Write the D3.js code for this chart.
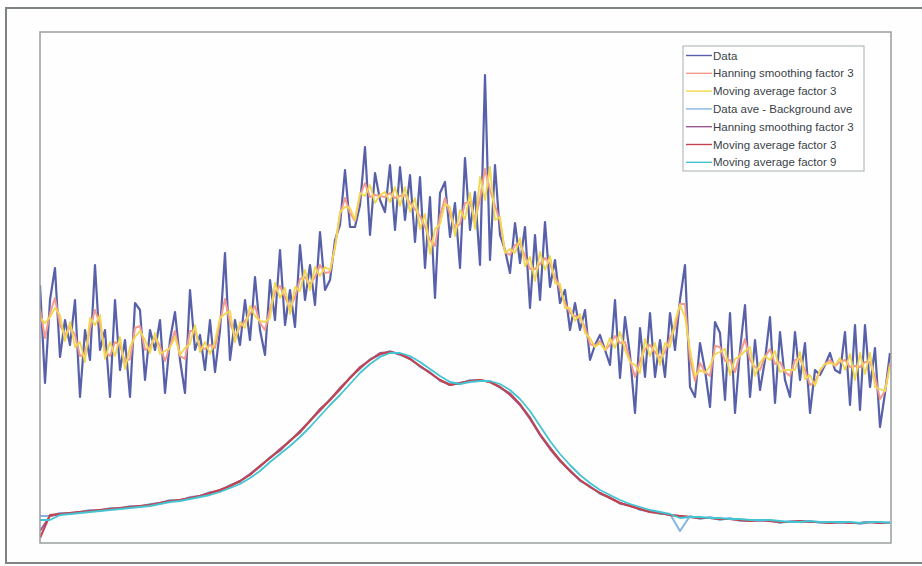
<!DOCTYPE html>
<html>
<head>
<meta charset="utf-8">
<script src="https://cdn.jsdelivr.net/npm/d3@7"></script>
<style>
  body { margin: 0; background: #ffffff; }
  svg { display: block; }
</style>
</head>
<body>
<script>
// raw counts, one value per sample (171 samples)
var rawData = [258,160,243,275,186,223,198,243,146,213,
  183,278,193,213,146,243,173,203,146,240,
  233,163,213,193,223,150,203,231,183,150,
  253,193,208,173,223,171,213,290,183,223,
  198,243,203,266,213,188,263,223,293,218,
  253,216,298,243,278,238,311,253,263,303,
  318,373,316,316,338,396,308,370,343,331,
  378,313,376,323,368,301,366,275,346,245,
  350,361,306,340,275,385,313,351,278,468,
  283,378,308,293,270,320,280,316,235,308,
  243,321,256,283,240,253,213,240,213,233,
  183,198,208,193,178,243,165,226,188,130,
  215,166,230,166,203,166,230,193,243,278,
  156,146,200,173,136,221,210,143,230,130,
  193,238,146,203,153,183,226,140,211,163,
  146,211,163,200,130,173,168,178,190,173,
  170,211,138,218,133,218,156,195,116,150,
  190];

var hanning3 = [234,205,230,245,218,208,216,208,187,189,
  214,233,219,191,187,201,198,181,184,215,
  217,193,196,206,197,182,197,212,187,184,
  212,212,196,194,198,195,222,244,220,207,
  216,222,229,237,220,213,234,251,257,246,
  235,246,264,266,259,266,278,270,271,297,
  328,345,330,322,347,360,346,348,347,346,
  350,345,347,348,340,334,327,316,303,297,
  327,345,328,315,319,340,341,323,344,374,
  353,337,322,291,288,298,299,287,274,274,
  279,285,279,266,254,240,230,227,225,216,
  199,197,202,193,198,207,200,201,183,166,
  182,194,198,191,185,191,205,215,239,239,
  184,162,180,171,167,197,196,182,183,171,
  189,204,183,176,173,186,194,179,181,171,
  167,183,184,173,158,161,172,179,183,177,
  181,183,176,177,176,181,181,166,144,152,
  180];

var movingAvg3 = [225,220,226,235,228,202,221,196,201,181,
  225,218,228,184,201,187,206,174,196,206,
  212,203,190,210,189,192,195,206,188,195,
  199,218,191,201,189,202,225,229,232,201,
  221,215,237,227,222,221,225,260,245,255,
  229,256,252,273,253,276,267,276,273,295,
  331,336,335,323,350,347,358,340,348,351,
  341,356,337,356,331,345,314,329,289,314,
  319,339,336,307,333,324,350,314,366,343,
  376,323,326,290,294,290,305,277,286,262,
  291,273,287,260,259,235,235,222,229,210,
  205,196,200,193,205,195,211,193,181,178,
  170,204,187,200,178,200,196,222,238,226,
  193,167,173,170,177,189,191,194,168,184,
  187,192,196,167,180,187,183,192,171,173,
  173,173,191,164,168,157,173,179,180,178,
  185,173,189,163,190,169,190,156,154,152,
  177];

// background-corrected averages, every second sample (86 points)
var dataAve = [27,27,30,29,31,33,32,35,34,37,
  36,39,40,43,42,46,47,51,52,58,
  61,69,76,86,92,103,110,123,132,144,
  153,166,174,184,188,192,188,185,176,171,
  162,159,159,163,162,162,155,150,138,126,
  108,96,82,73,62,57,49,46,39,38,
  33,32,29,29,12,27,24,26,23,25,
  22,23,22,23,20,22,21,22,20,21,
  20,21,19,21,20,21];

var aveHanning3 = [12,27,29,30,31,32,33,34,35,36,
  37,38,40,42,43,45,47,50,53,57,
  62,69,77,85,94,102,112,122,134,143,
  155,165,176,183,190,191,189,184,177,170,
  163,158,160,162,163,161,156,148,138,124,
  108,94,82,72,63,56,50,45,40,37,
  34,31,30,28,27,26,25,25,24,24,
  23,22,23,22,21,21,22,21,21,20,
  21,20,20,21,20,20];

var aveMoving3 = [5,28,29,30,31,32,33,34,35,36,
  37,38,40,42,43,45,47,50,53,57,
  62,68,77,85,93,102,111,122,133,143,
  154,165,175,183,189,191,189,184,177,170,
  163,158,160,162,163,161,156,149,139,125,
  109,95,83,72,63,56,50,45,40,37,
  34,31,30,28,27,26,25,25,24,24,
  23,22,23,22,21,21,22,21,21,20,
  21,20,20,21,20,20];

var aveMoving9 = [23,23,28,29,30,31,32,33,34,35,
  36,37,39,41,42,44,46,48,51,55,
  59,65,72,81,89,97,106,116,127,138,
  148,159,170,179,186,190,190,187,181,174,
  167,161,159,161,162,162,159,153,144,132,
  117,102,89,78,68,60,53,48,43,39,
  36,33,31,29,25,26,26,25,25,24,
  24,23,23,23,22,21,21,22,21,21,
  21,21,20,21,21,20];

var legendLabels = ["Data", "Hanning smoothing factor 3", "Moving average factor 3",
  "Data ave - Background ave", "Hanning smoothing factor 3",
  "Moving average factor 3", "Moving average factor 9"];
var legendColors = ["#5760a8", "#f49a8e", "#f2d84e", "#86b4e2", "#9a5a98", "#c4434c", "#44c4d2"];

// size of the canvas and plot box
var totalWidth = 922
var totalHeight = 566
var margin = {top: 32, right: 31, bottom: 23, left: 40}
var width = totalWidth - margin.left - margin.right
var height = totalHeight - margin.top - margin.bottom

var svg = d3.select("body").append("svg")
    .attr("width", totalWidth)
    .attr("height", totalHeight);

// outer frame, right side runs off the page
svg.append("rect")
    .attr("x", 6)
    .attr("y", 8)
    .attr("width", 930)
    .attr("height", 555)
    .style("fill", "#fefefe")
    .style("stroke", "#7e8482")
    .style("stroke-width", 2);

var g = svg.append("g")
    .attr("transform", "translate(" + margin.left + "," + margin.top + ")");

svg.append("clipPath")
    .attr("id", "plotclip")
  .append("rect")
    .attr("width", width)
    .attr("height", height);

// scales: sample number and counts
var xScale = d3.scaleLinear()
    .domain([0, 170])
    .range([0, width - 1]);

var yScale = d3.scaleLinear()
    .domain([0, 511])
    .range([height, 0]);

var fullLine = d3.line()
    .x(function(d, i) {return xScale(i);})
    .y(function(d) {return yScale(d);});

var halfLine = d3.line()
    .x(function(d, i) {return xScale(i * 2);})
    .y(function(d) {return yScale(d);});

var lines = g.append("g").attr("clip-path", "url(#plotclip)");

var series = [
  {values: rawData, line: fullLine, color: legendColors[0], w: 2.2},
  {values: hanning3, line: fullLine, color: legendColors[1], w: 2},
  {values: movingAvg3, line: fullLine, color: legendColors[2], w: 1.8},
  {values: dataAve, line: halfLine, color: legendColors[3], w: 2},
  {values: aveHanning3, line: halfLine, color: legendColors[4], w: 2},
  {values: aveMoving3, line: halfLine, color: legendColors[5], w: 2},
  {values: aveMoving9, line: halfLine, color: legendColors[6], w: 1.8}
];

lines.selectAll("path")
    .data(series)
    .enter()
    .append("path")
    .attr("d", function(d) {return d.line(d.values);})
    .style("fill", "none")
    .style("stroke", function(d) {return d.color;})
    .style("stroke-width", function(d) {return d.w;})
    .style("stroke-linejoin", "round");

// plot box
g.append("rect")
    .attr("width", width)
    .attr("height", height)
    .style("fill", "none")
    .style("stroke", "#9a9e9e")
    .style("stroke-width", 1.5);

// legend
var legend = svg.append("g")
    .attr("transform", "translate(683,46)");

legend.append("rect")
    .attr("width", 181)
    .attr("height", 125)
    .style("fill", "#ffffff")
    .style("stroke", "#a8aeb0")
    .style("stroke-width", 1);

var rows = legend.selectAll(".row")
    .data(legendLabels)
    .enter()
    .append("g")
    .attr("class", "row")
    .attr("transform", function(d, i) {return "translate(0," + (9.5 + i * 17.8) + ")";});

rows.append("line")
    .attr("x1", 3)
    .attr("x2", 29)
    .style("stroke", function(d, i) {return legendColors[i];})
    .style("stroke-width", 1.4);

rows.append("text")
    .attr("x", 30)
    .attr("dy", "0.35em")
    .style("font-family", "Liberation Sans, Arial, sans-serif")
    .style("font-size", "11.5px")
    .style("fill", "#3a3f48")
    .text(function(d) {return d;});
</script>
</body>
</html>
